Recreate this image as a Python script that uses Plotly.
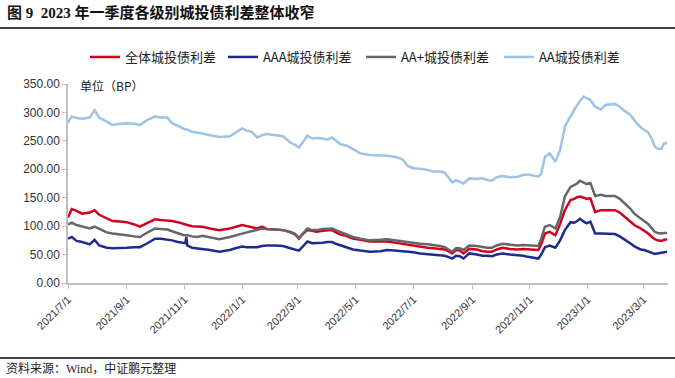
import plotly.graph_objects as go

dates = [
    "2021-07-01", "2021-07-05", "2021-07-10", "2021-07-16", "2021-07-24", "2021-07-29",
    "2021-08-03", "2021-08-11", "2021-08-17", "2021-08-25", "2021-09-01", "2021-09-09",
    "2021-09-15", "2021-09-22", "2021-10-01", "2021-10-07", "2021-10-14", "2021-10-19",
    "2021-10-25", "2021-10-30", "2021-11-02", "2021-11-03", "2021-11-04", "2021-11-09",
    "2021-11-14", "2021-11-20", "2021-11-28", "2021-12-08", "2021-12-19", "2021-12-25",
    "2022-01-01", "2022-01-06", "2022-01-11", "2022-01-17", "2022-01-22", "2022-01-27",
    "2022-02-05", "2022-02-13", "2022-02-21", "2022-02-26", "2022-03-02", "2022-03-06",
    "2022-03-11", "2022-03-16", "2022-03-21", "2022-03-27", "2022-04-01", "2022-04-06",
    "2022-04-10", "2022-04-15", "2022-04-21", "2022-04-28", "2022-05-06", "2022-05-16",
    "2022-05-27", "2022-06-03", "2022-06-11", "2022-06-19", "2022-06-25", "2022-07-01",
    "2022-07-08", "2022-07-16", "2022-07-22", "2022-07-29", "2022-08-03", "2022-08-08",
    "2022-08-11", "2022-08-15", "2022-08-19", "2022-08-23", "2022-08-29", "2022-09-06",
    "2022-09-12", "2022-09-17", "2022-09-22", "2022-09-27", "2022-10-03", "2022-10-11",
    "2022-10-19", "2022-10-25", "2022-10-30", "2022-11-05", "2022-11-10", "2022-11-13",
    "2022-11-17", "2022-11-22", "2022-11-28", "2022-12-03", "2022-12-08", "2022-12-14",
    "2022-12-18", "2022-12-21", "2022-12-24", "2022-12-28", "2022-12-31", "2023-01-04",
    "2023-01-09", "2023-01-15", "2023-01-20", "2023-01-25", "2023-01-30", "2023-02-04",
    "2023-02-08", "2023-02-15", "2023-02-20", "2023-02-26", "2023-03-02", "2023-03-06",
    "2023-03-10", "2023-03-13", "2023-03-16", "2023-03-20", "2023-03-23", "2023-03-26",
]

all_spread = [
    115, 130, 127, 122, 124, 128, 120, 113, 109, 108, 107, 103,
    99, 105, 112, 111, 110, 109, 107, 104, 102, 102, 102, 100,
    99, 99, 96, 93, 96, 99, 102, 100, 98, 96, 99, 95,
    94, 93, 90, 86, 78, 86, 93, 91, 90, 92, 93, 93,
    89, 85, 83, 78, 76, 73, 73, 73, 71, 69, 67, 65,
    63, 62, 61, 60, 59, 55, 52, 58, 57, 52, 60, 59,
    56, 55, 55, 59, 62, 60, 59, 60, 59, 58, 58, 68,
    87, 90, 84, 104, 128, 146, 148, 151, 152, 150, 148, 149,
    125, 128, 128, 128, 128, 124, 118, 108, 101, 96, 92, 87,
    81, 77, 75, 74, 76, 77,
]

aaa_spread = [
    78, 81, 74, 72, 68, 76, 66, 62, 61, 61, 62, 63,
    63, 69, 78, 78, 77, 75, 72, 70, 70, 81, 66, 62,
    61, 60, 58, 55, 58, 61, 64, 63, 63, 63, 65, 66,
    66, 65, 61, 59, 57, 64, 73, 70, 70, 71, 72, 72,
    69, 66, 63, 59, 57, 55, 56, 58, 57, 56, 55, 54,
    52, 51, 50, 49, 48, 45, 43, 48, 47, 43, 52, 50,
    48, 48, 47, 50, 52, 50, 49, 48, 46, 45, 43, 50,
    63, 66, 62, 75, 93, 107, 106, 109, 113, 108, 105, 108,
    87, 87, 87, 86, 86, 82, 78, 70, 64, 59, 58, 56,
    53, 51, 52, 52, 54, 55,
]

aaplus_spread = [
    103, 106, 102, 99, 96, 99, 95, 89, 87, 86, 84, 82,
    81, 88, 96, 95, 94, 91, 87, 85, 84, 84, 84, 82,
    81, 83, 80, 77, 81, 84, 87, 89, 91, 93, 96, 95,
    94, 93, 89, 85, 79, 87, 96, 93, 93, 95, 96, 96,
    93, 90, 86, 81, 78, 75, 76, 77, 75, 73, 72, 71,
    69, 68, 67, 65, 63, 58, 55, 61, 61, 58, 66, 65,
    63, 62, 62, 66, 69, 67, 66, 67, 66, 65, 65, 78,
    99, 102, 96, 116, 152, 169, 172, 175, 180, 177, 174, 176,
    153, 155, 153, 153, 153, 148, 142, 131, 121, 114, 109, 104,
    96, 90, 88, 87, 88, 88,
]

aa_spread = [
    282, 293, 290, 289, 291, 304, 291, 283, 278, 280, 281, 280,
    278, 286, 293, 291, 291, 281, 276, 272, 270, 270, 270, 266,
    265, 263, 260, 257, 258, 265, 272, 268, 266, 256, 260, 262,
    260, 258, 247, 243, 238, 247, 259, 254, 255, 254, 252, 256,
    250, 244, 242, 236, 228, 225, 225, 224, 222, 218, 206, 202,
    201, 199, 196, 196, 194, 183, 177, 181, 178, 175, 184, 183,
    184, 181, 180, 186, 188, 186, 187, 190, 191, 189, 187, 192,
    222, 228, 213, 234, 275, 293, 305, 313, 320, 328, 325, 322,
    310, 305, 313, 314, 315, 310, 304, 296, 285, 274, 270, 265,
    253, 240, 236, 236, 246, 246,
]

series_names = ["全体城投债利差", "AAA城投债利差", "AA+城投债利差", "AA城投债利差"]
series_values = [all_spread, aaa_spread, aaplus_spread, aa_spread]
series_colors = ["#D2001E", "#1F2B8F", "#666666", "#9DC3E6"]

tick_dates = ["2021-07-01", "2021-09-01", "2021-11-01", "2022-01-01", "2022-03-01",
              "2022-05-01", "2022-07-01", "2022-09-01", "2022-11-01", "2023-01-01",
              "2023-03-01"]
tick_labels = ["2021/7/1", "2021/9/1", "2021/11/1", "2022/1/1", "2022/3/1",
               "2022/5/1", "2022/7/1", "2022/9/1", "2022/11/1", "2023/1/1",
               "2023/3/1"]
y_ticks = [0, 50, 100, 150, 200, 250, 300, 350]

title_text = "<b>图 9  2023 年一季度各级别城投债利差整体收窄</b>"
source_text = "资料来源：Wind，中证鹏元整理"
unit_text = "单位（BP）"

fig = go.Figure()
for name, vals, col in zip(series_names, series_values, series_colors):
    fig.add_trace(go.Scatter(x=dates, y=vals, mode="lines", name=name,
                             line=dict(color=col, width=2.5)))

W, H = 675, 378
ml, mr, mt, mb = 68, 7, 84, 95
pw, ph = W - ml - mr, H - mt - mb

def px(xp):
    return (xp - ml) / pw

def py(yp):
    return (H - mb - yp) / ph

fig.update_layout(
    width=W, height=H,
    margin=dict(l=ml, r=mr, t=mt, b=mb, autoexpand=False),
    paper_bgcolor="white", plot_bgcolor="white",
    font=dict(family="Liberation Sans, Noto Sans CJK SC", size=12, color="#222222"),
    showlegend=True,
    legend=dict(orientation="h", x=px(85), xanchor="left", y=py(57), yanchor="middle",
                font=dict(family="Noto Sans CJK SC", size=13, color="#222222"),
                itemwidth=30, tracegroupgap=0, bgcolor="rgba(0,0,0,0)",
                entrywidth=93),
    xaxis=dict(type="date", range=["2021-07-01", "2023-03-27"],
               tickvals=tick_dates, ticktext=tick_labels, tickangle=-45,
               showgrid=False, zeroline=False, showline=True, linecolor="#BFBFBF",
               linewidth=1.5, ticks="outside", ticklen=4, tickcolor="#BFBFBF",
               tickfont=dict(family="Liberation Sans, Noto Sans CJK SC", size=11, color="#333333")),
    yaxis=dict(range=[0, 350], tickvals=y_ticks, tickformat=".2f",
               showgrid=False, zeroline=False, showline=True, linecolor="#BFBFBF",
               linewidth=1.5, ticks="outside", ticklen=4, tickcolor="#BFBFBF",
               tickfont=dict(family="Liberation Sans, Noto Sans CJK SC", size=12, color="#333333")),
)

fig.add_shape(type="line", xref="paper", yref="paper", x0=px(0), x1=px(W), y0=py(28), y1=py(28),
              line=dict(color="black", width=1.5))
fig.add_shape(type="line", xref="paper", yref="paper", x0=px(0), x1=px(W), y0=py(358), y1=py(358),
              line=dict(color="black", width=1.5))

fig.add_annotation(text=title_text, xref="paper", yref="paper", x=px(5), y=py(13),
                   xanchor="left", yanchor="middle", showarrow=False,
                   font=dict(family="Liberation Serif, Noto Sans CJK SC", size=15, color="#111111"))
fig.add_annotation(text=source_text, xref="paper", yref="paper", x=px(4), y=py(368),
                   xanchor="left", yanchor="middle", showarrow=False,
                   font=dict(family="Liberation Serif, Noto Sans CJK SC", size=12, color="#222222"))
fig.add_annotation(text=unit_text, xref="paper", yref="paper", x=px(78), y=py(85),
                   xanchor="left", yanchor="middle", showarrow=False,
                   font=dict(family="Noto Sans CJK SC", size=12, color="#222222"))

fig.write_html("out.html", config={"displayModeBar": False},
               post_script="document.body.style.margin='0';document.body.style.overflow='hidden';")
